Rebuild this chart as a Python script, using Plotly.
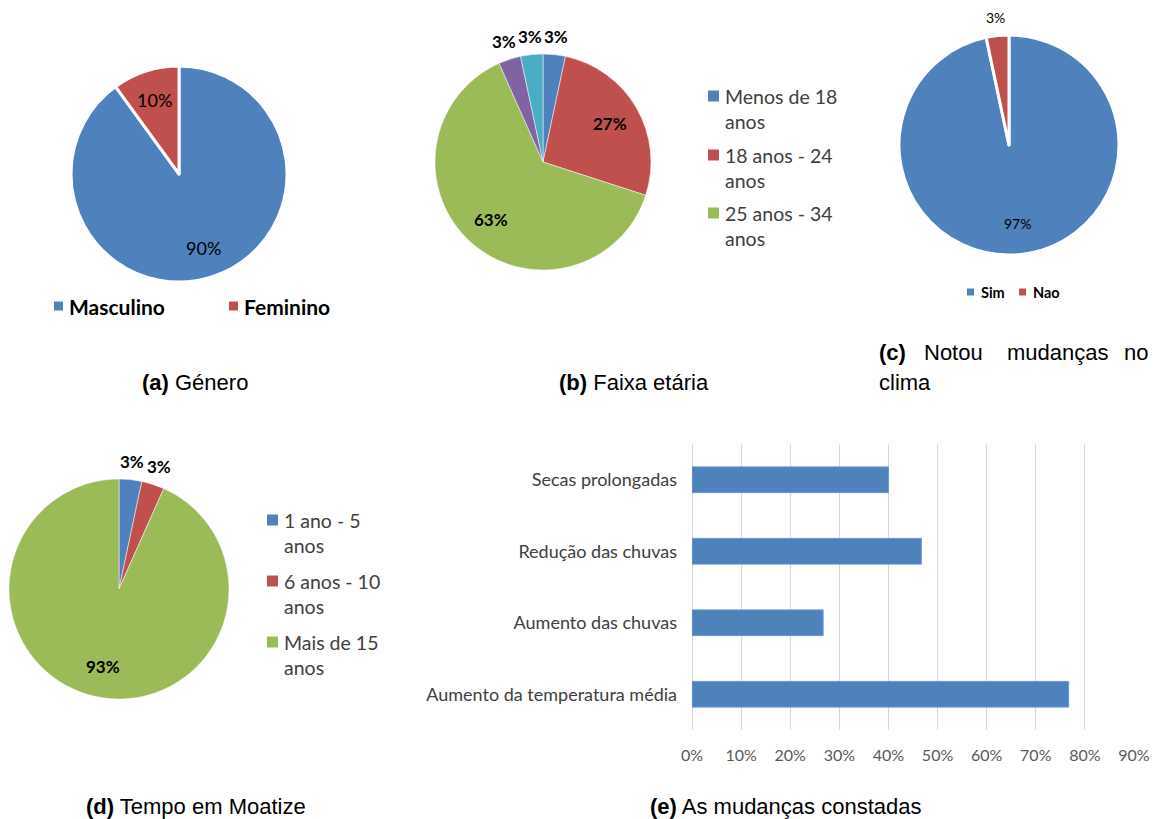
import math
import plotly.graph_objects as go

W, H = 1153, 819

# ---------------- data ----------------
genero_labels = ["Masculino", "Feminino"]
genero_values = [27, 3]

idade_labels = ["Menos de 18 anos", "18 anos - 24 anos", "25 anos - 34 anos", "35 anos - 44 anos", "Mais de 45 anos"]
idade_values = [1, 8, 19, 1, 1]

clima_labels = ["Sim", "Nao"]
clima_values = [29, 1]

tempo_labels = ["1 ano - 5 anos", "6 anos - 10 anos", "Mais de 15 anos"]
tempo_values = [1, 1, 28]

mudancas_labels = ["Aumento da temperatura média", "Aumento das chuvas", "Redução das chuvas", "Secas prolongadas"]
mudancas_values = [0.767, 0.267, 0.467, 0.40]

x_ticks = [0, 0.1, 0.2, 0.3, 0.4, 0.5, 0.6, 0.7, 0.8, 0.9]
x_tick_text = ["0%", "10%", "20%", "30%", "40%", "50%", "60%", "70%", "80%", "90%"]

BLUE, RED, GREEN, PURPLE, CYAN = "#4F81BD", "#C0504D", "#9BBB59", "#8064A2", "#4BACC6"


def px(x):
    return x / W


def py(y):
    return 1 - y / H


def pie_domain(cx, cy, r):
    return dict(x=[px(cx - r), px(cx + r)], y=[py(cy + r), py(cy - r)])


fig = go.Figure()


def add_pie(labels, values, colors, cx, cy, r, line_w, places, font_size, bold):
    fig.add_trace(go.Pie(
        labels=labels, values=values, sort=False, direction="clockwise", rotation=0,
        marker=dict(colors=colors, line=dict(color="white", width=line_w)),
        domain=pie_domain(cx, cy, r), textinfo="none", showlegend=False,
        hoverinfo="label+percent",
    ))
    # percent labels placed along each slice's mid-angle (computed from the data)
    total = sum(values)
    cum = 0
    for v, place in zip(values, places):
        mid = 2 * math.pi * (cum + v / 2) / total
        cum += v
        d = r * (0.72 if place == "in" else 1.17)
        x = cx + d * math.sin(mid)
        y = cy - d * math.cos(mid)
        txt = f"{round(100 * v / total)}%"
        if bold:
            txt = f"<b>{txt}</b>"
        fig.add_annotation(x=px(x), y=py(y), xref="paper", yref="paper", xanchor="center",
                           yanchor="middle", text=txt, showarrow=False,
                           font=dict(family="Lato", size=font_size, color="black"))


add_pie(genero_labels, genero_values, [BLUE, RED], 179, 174, 108, 3, ["in", "in"], 18, False)
add_pie(idade_labels, idade_values, [BLUE, RED, GREEN, PURPLE, CYAN], 543, 162, 108, 0.5,
        ["out", "in", "in", "out", "out"], 17, True)
add_pie(clima_labels, clima_values, [BLUE, RED], 1009, 145, 110, 3, ["in", "out"], 14, False)
add_pie(tempo_labels, tempo_values, [BLUE, RED, GREEN], 119, 589, 110, 0.5, ["out", "out", "in"], 17, True)

# (e) bar chart
fig.add_trace(go.Bar(
    y=mudancas_labels, x=mudancas_values, orientation="h", width=0.36,
    marker=dict(color=BLUE, line=dict(color="#6a96cc", width=1)), showlegend=False,
))

fig.update_layout(
    width=W, height=H, margin=dict(l=0, r=0, t=0, b=0, pad=0),
    paper_bgcolor="white", plot_bgcolor="white",
    xaxis=dict(domain=[px(692), px(1134)], range=[0, 0.9], tickvals=x_ticks, ticktext=x_tick_text,
               showgrid=True, gridcolor="#D9D9D9", gridwidth=1, zeroline=True, zerolinecolor="#D9D9D9",
               zerolinewidth=1, showline=False, ticks="", ticklabelstandoff=14, automargin=False,
               tickfont=dict(family="Lato", size=16, color="#595959"), fixedrange=True),
    yaxis=dict(domain=[py(730), py(444)], showgrid=False, zeroline=False, showline=False,
               ticks="", ticklabelstandoff=14, categoryorder="array", categoryarray=mudancas_labels,
               automargin=False, tickfont=dict(family="Lato", size=18, color="#404040")),
)


# custom legends
def legend_item(x_sq, y, size, color, text, font_size, gap=4):
    fig.add_shape(type="rect", xref="paper", yref="paper",
                  x0=px(x_sq), x1=px(x_sq + size), y0=py(y + size / 2), y1=py(y - size / 2),
                  fillcolor=color, line=dict(width=0))
    fig.add_annotation(x=px(x_sq + size + gap), y=py(y), xref="paper", yref="paper",
                       xanchor="left", yanchor="middle", text=f"<b>{text}</b>", showarrow=False,
                       align="left", font=dict(family="Lato", size=font_size, color="#000000"))


legend_item(54, 306, 9, BLUE, "Masculino", 21)
legend_item(229, 306, 9, RED, "Feminino", 21)
legend_item(967, 292, 7, BLUE, "Sim", 14.5, gap=5)
legend_item(1019, 292, 7, RED, "Nao", 14.5, gap=5)


def legend_block(x_sq, y_first, color, line1, line2, fs):
    fig.add_shape(type="rect", xref="paper", yref="paper",
                  x0=px(x_sq), x1=px(x_sq + 11), y0=py(y_first + 5.5), y1=py(y_first - 5.5),
                  fillcolor=color, line=dict(width=0))
    fig.add_annotation(x=px(x_sq + 15), y=py(y_first - 13), xref="paper", yref="paper",
                       xanchor="left", yanchor="top", text=f"{line1}<br>{line2}", showarrow=False,
                       align="left", font=dict(family="Lato", size=fs, color="#404040"))


legend_block(708, 96, BLUE, "Menos de 18", "anos", 19.5)
legend_block(708, 155, RED, "18 anos - 24", "anos", 19.5)
legend_block(708, 213, GREEN, "25 anos - 34", "anos", 19.5)

legend_block(267, 520, BLUE, "1 ano - 5", "anos", 19.5)
legend_block(267, 581, RED, "6 anos - 10", "anos", 19.5)
legend_block(267, 642, GREEN, "Mais de 15", "anos", 19.5)

# captions
CAP = dict(family="Liberation Sans, Arial", size=22, color="black")


def caption(x, y, text, anchor="center"):
    fig.add_annotation(x=px(x), y=py(y), xref="paper", yref="paper", xanchor=anchor, yanchor="middle",
                       text=text, showarrow=False, font=CAP)


caption(195, 382, "<b>(a)</b> Género")
caption(634, 382, "<b>(b)</b> Faixa etária")
caption(877, 352, "<b>(c)</b>", "left")
caption(922, 352, "Notou", "left")
caption(1005, 352, "mudanças", "left")
caption(1150, 352, "no", "right")
caption(877, 382, "clima", "left")
caption(196, 806, "<b>(d)</b> Tempo em Moatize")
caption(785, 806, "<b>(e)</b> As mudanças constadas")

fig.write_html("out.html")
